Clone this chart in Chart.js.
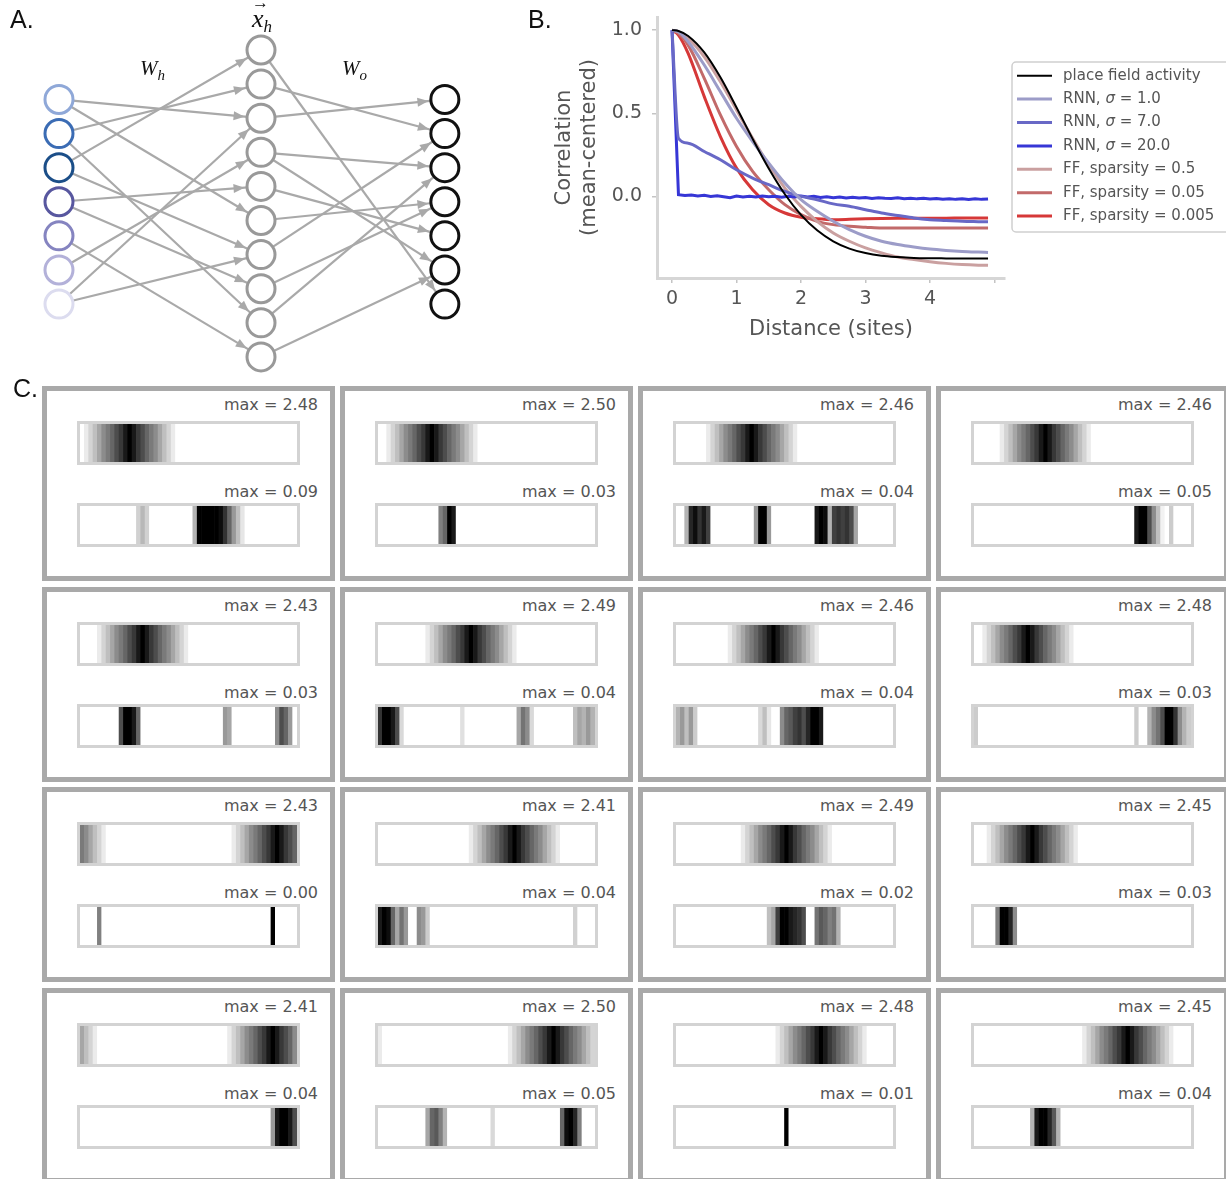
<!DOCTYPE html>
<html>
<head>
<meta charset="utf-8">
<title>Place field correlations</title>
<script src="https://cdn.jsdelivr.net/npm/chart.js"></script>
<style>
  body { margin: 0; background: #fff; }
  #page { position: relative; width: 1226px; height: 1179px; overflow: hidden; background: #fff; }
  canvas { position: absolute; }
  .tag { position: absolute; font-family: "Liberation Sans", Arial, sans-serif; font-size: 25px; line-height: 25px; color: #111; }
  .math { position: absolute; font-family: "Liberation Serif", serif; font-style: italic; font-size: 21px; line-height: 21px; color: #111; white-space: nowrap; }
  .math sub { font-size: 15px; vertical-align: -5px; }
  .cell { position: absolute; box-sizing: border-box; width: 293px; height: 195px; border: 5px solid #a9a9a9; background: #fff; }
  .strip { position: absolute; left: 30px; width: 217px; height: 38px; border: 3px solid #d3d3d3; background: #fff; }
  .strip canvas { left: 0; top: 0; }
  .max { position: absolute; right: 12px; font-family: "DejaVu Sans", sans-serif; font-size: 16px; line-height: 19px; color: #555; }
</style>
</head>
<body>
<div id="page">
  <canvas id="net" width="520" height="375" style="left:0;top:0"></canvas>
  <canvas id="corr" width="696" height="345" style="left:530px;top:0"></canvas>

  <div class="tag" style="left:10px;top:7px">A.</div>
  <div class="tag" style="left:528px;top:7px">B.</div>
  <div class="tag" style="left:13px;top:376px">C.</div>

  <div class="math" style="left:140px;top:58px">W<sub>h</sub></div>
  <div class="math" style="left:342px;top:58px">W<sub>o</sub></div>
  <div class="math" style="left:252px;top:6px;font-size:26px;line-height:26px"><span style="position:relative">x<span style="position:absolute;left:0;top:-14px;font-size:17px;font-style:normal">&#8594;</span></span><sub style="font-size:17px">h</sub></div>

  <div id="panelC"></div>
</div>

<script>
Chart.defaults.font.family = "'DejaVu Sans', sans-serif";

// ---- B: correlation vs distance ----
const distance = [0, 0.1, 0.25, 0.5, 0.75, 1, 1.25, 1.5, 1.75, 2, 2.25, 2.5, 2.75, 3, 3.25, 3.5, 3.75, 4, 4.25, 4.5, 4.75, 4.9];
const placeFieldCorr = [1.0, 0.995, 0.965, 0.866, 0.716, 0.535, 0.346, 0.168, 0.013, -0.111, -0.204, -0.27, -0.314, -0.341, -0.357, -0.365, -0.37, -0.372, -0.373, -0.374, -0.374, -0.374];
const rnnSigma1 = [1.0, 0.99, 0.93, 0.79, 0.63, 0.47, 0.33, 0.2, 0.08, -0.02, -0.09, -0.15, -0.2, -0.24, -0.27, -0.29, -0.305, -0.317, -0.325, -0.331, -0.335, -0.337];
const rnnSigma7 = [1.0, 0.35, 0.32, 0.27, 0.22, 0.16, 0.11, 0.07, 0.03, 0.0, -0.02, -0.045, -0.06, -0.08, -0.1, -0.115, -0.13, -0.14, -0.145, -0.15, -0.152, -0.153];
const ffSparsity05 = [1.0, 0.99, 0.95, 0.84, 0.69, 0.52, 0.35, 0.19, 0.05, -0.06, -0.15, -0.22, -0.27, -0.31, -0.34, -0.365, -0.38, -0.393, -0.403, -0.41, -0.414, -0.415];
const ffSparsity005 = [1.0, 0.98, 0.91, 0.71, 0.49, 0.3, 0.15, 0.04, -0.05, -0.11, -0.15, -0.17, -0.18, -0.185, -0.19, -0.19, -0.19, -0.19, -0.19, -0.19, -0.19, -0.19];
const ffSparsity0005 = [1.0, 0.97, 0.86, 0.6, 0.36, 0.17, 0.04, -0.05, -0.1, -0.125, -0.135, -0.14, -0.138, -0.135, -0.133, -0.132, -0.132, -0.131, -0.131, -0.13, -0.13, -0.13];

const fineDistance = [0, 0.1, 0.2, 0.3, 0.4, 0.5, 0.6, 0.7, 0.8, 0.9, 1, 1.1, 1.2, 1.3, 1.4, 1.5, 1.6, 1.7, 1.8, 1.9,
  2, 2.1, 2.2, 2.3, 2.4, 2.5, 2.6, 2.7, 2.8, 2.9, 3, 3.1, 3.2, 3.3, 3.4, 3.5, 3.6, 3.7, 3.8, 3.9,
  4, 4.1, 4.2, 4.3, 4.4, 4.5, 4.6, 4.7, 4.8, 4.9];
const rnnSigma20 = [1.0, 0.01, 0.005, 0.008, 0.003, 0.006, 0.0, 0.004, -0.002, -0.008, 0.002, -0.003, 0.001, -0.004, 0.002, -0.002, 0.0, -0.005, 0.001, -0.003,
  0.002, -0.004, 0.0, -0.006, -0.002, -0.008, -0.004, -0.009, -0.005, -0.01, -0.007, -0.012, -0.008, -0.011, -0.013, -0.009, -0.014, -0.011, -0.015, -0.012,
  -0.016, -0.013, -0.017, -0.014, -0.018, -0.015, -0.019, -0.014, -0.018, -0.016];

const distanceTicks = [0, 1, 2, 3, 4, 5];
const corrTicks = [0, 0.5, 1];

const series = [
  { label: 'place field activity', xs: distance, ys: placeFieldCorr, color: '#000000', width: 2 },
  { label: 'RNN, σ = 1.0', xs: distance, ys: rnnSigma1, color: '#9c9cc8', width: 3 },
  { label: 'RNN, σ = 7.0', xs: distance, ys: rnnSigma7, color: '#6868c6', width: 3 },
  { label: 'RNN, σ = 20.0', xs: fineDistance, ys: rnnSigma20, color: '#3636d6', width: 3, straight: true },
  { label: 'FF, sparsity = 0.5', xs: distance, ys: ffSparsity05, color: '#caa0a0', width: 3 },
  { label: 'FF, sparsity = 0.05', xs: distance, ys: ffSparsity005, color: '#c26a6a', width: 3 },
  { label: 'FF, sparsity = 0.005', xs: distance, ys: ffSparsity0005, color: '#d63838', width: 3 }
];

// framed legend to the right of the axes, labels with an italic sigma
const legendBox = {
  id: 'legendBox',
  afterDraw(chart) {
    const ctx = chart.ctx;
    const left = 482, top = 62, w = 240, h = 170;
    ctx.save();
    ctx.beginPath();
    if (ctx.roundRect) ctx.roundRect(left, top, w, h, 4); else ctx.rect(left, top, w, h);
    ctx.fillStyle = 'rgba(255,255,255,0.85)';
    ctx.fill();
    ctx.strokeStyle = '#cfcfcf';
    ctx.lineWidth = 1.5;
    ctx.stroke();
    ctx.textBaseline = 'middle';
    chart.data.datasets.forEach((ds, i) => {
      const yy = 75.7 + i * 23.4;
      ctx.beginPath();
      ctx.moveTo(487, yy);
      ctx.lineTo(522, yy);
      ctx.strokeStyle = ds.borderColor;
      ctx.lineWidth = ds.borderWidth;
      ctx.stroke();
      let xx = 533;
      ctx.fillStyle = '#555';
      ds.label.split(/(σ)/).forEach(part => {
        if (!part) return;
        ctx.font = (part === 'σ' ? 'italic ' : '') + "15px 'DejaVu Sans'";
        ctx.fillText(part, xx, yy);
        xx += ctx.measureText(part).width;
      });
    });
    ctx.restore();
  }
};

const axisFont = { size: 19 };
new Chart(document.getElementById('corr'), {
  type: 'line',
  data: {
    datasets: series.map(s => ({
      label: s.label,
      data: s.xs.map((x, i) => ({ x, y: s.ys[i] })),
      borderColor: s.color,
      backgroundColor: s.color,
      borderWidth: s.width,
      pointRadius: 0,
      fill: false,
      tension: 0,
      cubicInterpolationMode: s.straight ? 'default' : 'monotone'
    }))
  },
  options: {
    responsive: false,
    animation: false,
    events: [],
    layout: { autoPadding: false, padding: { left: 0, right: 221, top: 17, bottom: 3 } },
    plugins: { legend: { display: false }, tooltip: { enabled: false } },
    scales: {
      x: {
        type: 'linear',
        min: -0.233,
        max: 5.163,
        afterBuildTicks: s => { s.ticks = distanceTicks.map(v => ({ value: v })); },
        afterFit: s => { s.height = 64; s.paddingLeft = 0; s.paddingRight = 0; },
        ticks: { font: axisFont, color: '#555', padding: 5, maxRotation: 0, autoSkip: false,
                 callback: v => (v < 5 ? String(v) : '') },
        grid: { display: true, drawOnChartArea: false, drawTicks: true, tickLength: 5, color: '#c4c4c4', lineWidth: 1.5 },
        border: { display: true, color: '#d6d6d6', width: 3 },
        title: { display: true, text: 'Distance (sites)', font: { size: 21 }, color: '#555', padding: 0 }
      },
      y: {
        min: -0.491,
        max: 1.079,
        afterBuildTicks: s => { s.ticks = corrTicks.map(v => ({ value: v })); },
        afterFit: s => { s.width = 127; s.paddingTop = 0; s.paddingBottom = 0; },
        ticks: { font: axisFont, color: '#555', padding: 10, callback: v => v.toFixed(1) },
        grid: { display: true, drawOnChartArea: false, drawTicks: true, tickLength: 5, color: '#c4c4c4', lineWidth: 1.5 },
        border: { display: true, color: '#d6d6d6', width: 3 },
        title: { display: true, text: ['Correlation', '(mean-centered)'], font: { size: 21 }, color: '#555',
                 padding: { top: 22, bottom: 0 } }
      }
    }
  },
  plugins: [legendBox]
});

// ---- A: network diagram ----
const layerX = [0, 1, 1.91];
const inputSlots = [1.45, 2.45, 3.45, 4.45, 5.45, 6.45, 7.45];
const hiddenSlots = [0, 1, 2, 3, 4, 5, 6, 7, 8, 9];
const outputSlots = [1.45, 2.45, 3.45, 4.45, 5.45, 6.45, 7.45];
const inputColors = ['#8fa8d8', '#3b6cb4', '#1b4e88', '#58579f', '#8584c0', '#b3b1d9', '#dcdcef'];
const inToHidden = [[0, 2], [0, 5], [1, 1], [1, 8], [2, 0], [2, 6], [3, 4], [3, 7], [4, 9], [5, 3], [6, 2], [6, 6]];
const hiddenToOut = [[0, 6], [1, 1], [2, 0], [3, 2], [3, 5], [4, 4], [5, 3], [6, 1], [7, 3], [8, 2], [9, 5]];

const edgeColor = '#a9a9a9';
const edgeSets = [];
inToHidden.forEach(([i, h]) => edgeSets.push([{ x: layerX[0], y: inputSlots[i] }, { x: layerX[1], y: hiddenSlots[h] }]));
hiddenToOut.forEach(([h, o]) => edgeSets.push([{ x: layerX[1], y: hiddenSlots[h] }, { x: layerX[2], y: outputSlots[o] }]));

const arrowHeads = {
  id: 'arrowHeads',
  afterDatasetsDraw(chart) {
    const { ctx, scales: { x, y } } = chart;
    ctx.save();
    ctx.fillStyle = edgeColor;
    chart.data.datasets.forEach(ds => {
      if (!ds.arrow) return;
      const [a, b] = ds.data;
      const x1 = x.getPixelForValue(a.x), y1 = y.getPixelForValue(a.y);
      const x2 = x.getPixelForValue(b.x), y2 = y.getPixelForValue(b.y);
      const ang = Math.atan2(y2 - y1, x2 - x1);
      const tx = x2 - Math.cos(ang) * 16.5, ty = y2 - Math.sin(ang) * 16.5;
      ctx.save();
      ctx.translate(tx, ty);
      ctx.rotate(ang);
      ctx.beginPath();
      ctx.moveTo(0, 0);
      ctx.lineTo(-11, -4.5);
      ctx.lineTo(-11, 4.5);
      ctx.closePath();
      ctx.fill();
      ctx.restore();
    });
    ctx.restore();
  }
};

const nodeSet = (xv, slots, colors) => ({
  data: slots.map(s => ({ x: xv, y: s })),
  pointRadius: 14,
  pointBorderWidth: 3,
  pointBackgroundColor: '#ffffff',
  pointBorderColor: colors,
  showLine: false,
  order: 0
});

new Chart(document.getElementById('net'), {
  type: 'scatter',
  data: {
    datasets: [
      nodeSet(layerX[0], inputSlots, inputColors),
      nodeSet(layerX[1], hiddenSlots, '#999999'),
      nodeSet(layerX[2], outputSlots, '#111111'),
      ...edgeSets.map(pts => ({
        data: pts, showLine: true, pointRadius: 0, borderColor: edgeColor, borderWidth: 2.2, order: 1, arrow: true
      }))
    ]
  },
  options: {
    responsive: false,
    animation: false,
    events: [],
    layout: { autoPadding: false, padding: 0 },
    plugins: { legend: { display: false }, tooltip: { enabled: false } },
    scales: {
      x: { display: false, min: -0.292, max: 2.282 },
      y: { display: false, min: -1.466, max: 9.531, reverse: true }
    }
  },
  plugins: [arrowHeads]
});

// ---- C: place field and hidden unit strips ----
// each strip is a list of [startBin, values...] runs over 50 position bins (intensity relative to max)
const nBins = 50;
const placeMax = [2.48, 2.50, 2.46, 2.46, 2.43, 2.49, 2.46, 2.48, 2.43, 2.41, 2.49, 2.45, 2.41, 2.50, 2.48, 2.45];
const hiddenMax = [0.09, 0.03, 0.04, 0.05, 0.03, 0.04, 0.04, 0.03, 0.00, 0.04, 0.02, 0.03, 0.04, 0.05, 0.01, 0.04];

const placeStrips = [
  [[1, .08, .17, .25, .35, .45, .52, .6, .7, .78, .9, 1, .9, .78, .7, .6, .52, .45, .35, .25, .17, .08]],
  [[2, .08, .17, .25, .35, .45, .52, .6, .7, .78, .9, 1, .9, .78, .7, .6, .52, .45, .35, .25, .17, .08]],
  [[7, .08, .17, .25, .35, .45, .52, .6, .7, .78, .9, 1, .9, .78, .7, .6, .52, .45, .35, .25, .17, .08]],
  [[6, .08, .17, .25, .35, .45, .52, .6, .7, .78, .9, 1, .9, .78, .7, .6, .52, .45, .35, .25, .17, .08]],
  [[4, .08, .17, .25, .35, .45, .52, .6, .7, .78, .9, 1, .9, .78, .7, .6, .52, .45, .35, .25, .17, .08]],
  [[11, .08, .17, .25, .35, .45, .52, .6, .7, .78, .9, 1, .9, .78, .7, .6, .52, .45, .35, .25, .17, .08]],
  [[12, .08, .17, .25, .35, .45, .52, .6, .7, .78, .9, 1, .9, .78, .7, .6, .52, .45, .35, .25, .17, .08]],
  [[2, .08, .17, .25, .35, .45, .52, .6, .7, .78, .9, 1, .9, .78, .7, .6, .52, .45, .35, .25, .17, .08]],
  [[0, .52, .45, .35, .25, .17, .08], [35, .08, .17, .25, .35, .45, .52, .6, .7, .78, .9, 1, .9, .78, .7, .6]],
  [[21, .08, .17, .25, .35, .45, .52, .6, .7, .78, .9, 1, .9, .78, .7, .6, .52, .45, .35, .25, .17, .08]],
  [[15, .08, .17, .25, .35, .45, .52, .6, .7, .78, .9, 1, .9, .78, .7, .6, .52, .45, .35, .25, .17, .08]],
  [[3, .08, .17, .25, .35, .45, .52, .6, .7, .78, .9, 1, .9, .78, .7, .6, .52, .45, .35, .25, .17, .08]],
  [[0, .35, .25, .17, .08], [34, .08, .17, .25, .35, .45, .52, .6, .7, .78, .9, 1, .9, .78, .7, .6, .45]],
  [[0, .08], [30, .08, .17, .25, .35, .45, .52, .6, .7, .78, .9, 1, .9, .78, .7, .6, .52, .45, .35, .25, .17]],
  [[23, .08, .17, .25, .35, .45, .52, .6, .7, .78, .9, 1, .9, .78, .7, .6, .52, .45, .35, .25, .17, .08]],
  [[25, .08, .17, .25, .35, .45, .52, .6, .7, .78, .9, 1, .9, .78, .7, .6, .52, .45, .35, .25, .17, .08]]
];

const hiddenStrips = [
  [[13, .18, .28, .18], [26, .3, 1, 1, 1, 1, 1, .95, .8, .6, .4, .25, .1]],
  [[14, .5, .6, 1, .9]],
  [[2, .3, .85, .95, .8, .9, .75], [18, .4, 1, 1, .4], [32, .9, 1, .95, .3, .75, .8, .75, .8, .7, .35]],
  [[37, .9, 1, 1, .7, .45, .25, .05], [45, .2]],
  [[9, .7, 1, 1, .9, .6], [33, .4, .35], [45, .45, .7, .6, .4]],
  [[0, .8, 1, 1, .9, .7, .15], [19, .12], [32, .35, .55, .45, .15], [45, .25, .35, .3, .4, .3]],
  [[0, .3, .4, .25, .4, .2], [19, .15, .25, .1], [24, .45, .6, .65, .75, .8, .7, .85, 1, 1, .9]],
  [[0, .2], [37, .2], [40, .3, .45, .55, .7, 1, 1, .8, .45, .3, .2]],
  [[4, .5], [44, 1]],
  [[0, .9, 1, .95, .6, .35, .55, .4], [9, .45, .4, .2], [45, .18]],
  [[21, .25, .35, .75, 1, 1, .9, .85, .8, .7], [32, .55, .65, .6, .5, .55, .3]],
  [[5, .5, 1, 1, .85, .45]],
  [[44, .4, .9, 1, 1, .9, .7]],
  [[11, .35, .6, .65, .5, .3], [26, .15], [42, .6, .95, 1, .85, .5]],
  [[25, 1]],
  [[13, .3, .9, 1, 1, .85, .65, .3]]
];

function toBins(runs) {
  const bins = new Array(nBins).fill(0);
  runs.forEach(([start, ...vals]) => vals.forEach((v, k) => { bins[start + k] = v; }));
  return bins;
}

function shade(v) {
  const g = Math.round(255 * (1 - v));
  return `rgb(${g},${g},${g})`;
}

function drawStrip(canvas, values) {
  new Chart(canvas, {
    type: 'bar',
    data: {
      labels: values.map((_, i) => i),
      datasets: [{
        data: values.map(() => 1),
        backgroundColor: values.map(shade),
        borderWidth: 0,
        categoryPercentage: 1,
        barPercentage: 1
      }]
    },
    options: {
      responsive: false,
      animation: false,
      events: [],
      layout: { autoPadding: false, padding: 0 },
      plugins: { legend: { display: false }, tooltip: { enabled: false } },
      scales: { x: { display: false }, y: { display: false, min: 0, max: 1 } }
    }
  });
}

const panelC = document.getElementById('panelC');
const cellLeft = [42, 340, 638, 936];
const cellTop = [386, 586.5, 787, 987.5];

placeMax.forEach((m, k) => {
  const cell = document.createElement('div');
  cell.className = 'cell';
  cell.style.left = cellLeft[k % 4] + 'px';
  cell.style.top = cellTop[Math.floor(k / 4)] + 'px';
  cell.innerHTML =
    `<div class="max" style="top:4px">max = ${m.toFixed(2)}</div>` +
    `<div class="strip" style="top:30px"><canvas width="217" height="38"></canvas></div>` +
    `<div class="max" style="top:91px">max = ${hiddenMax[k].toFixed(2)}</div>` +
    `<div class="strip" style="top:112px"><canvas width="217" height="38"></canvas></div>`;
  panelC.appendChild(cell);
  const canvases = cell.querySelectorAll('canvas');
  drawStrip(canvases[0], toBins(placeStrips[k]));
  drawStrip(canvases[1], toBins(hiddenStrips[k]));
});
</script>
</body>
</html>
